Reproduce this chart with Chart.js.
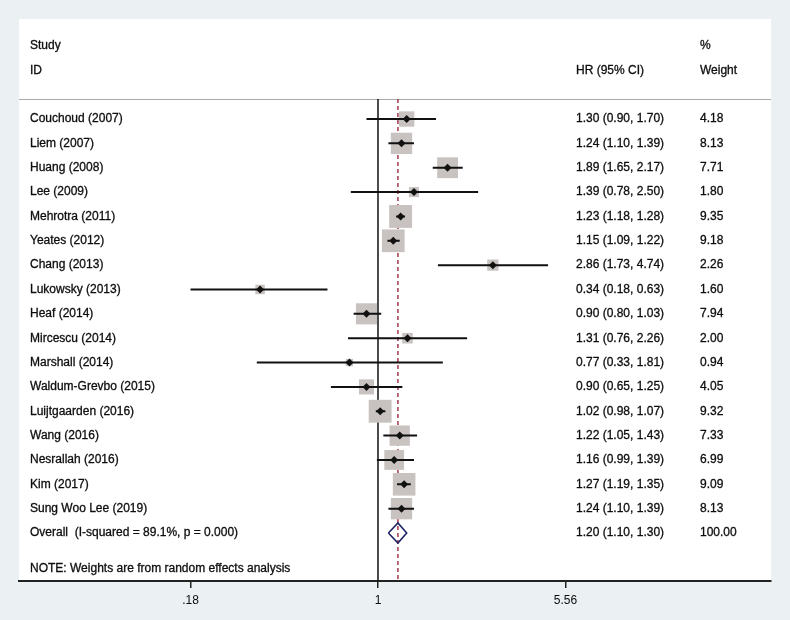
<!DOCTYPE html>
<html>
<head>
<meta charset="utf-8">
<script src="https://cdn.jsdelivr.net/npm/chart.js@4.4.1/dist/chart.umd.min.js"></script>
<style>
  html, body { margin: 0; padding: 0; background: #ebf1f3; }
  #wrap { width: 790px; height: 620px; position: relative; }
</style>
</head>
<body>
<div id="wrap"><canvas id="forest"></canvas></div>
<script>
const studies = ['Couchoud (2007)', 'Liem (2007)', 'Huang (2008)', 'Lee (2009)', 'Mehrotra (2011)',
    'Yeates (2012)', 'Chang (2013)', 'Lukowsky (2013)', 'Heaf (2014)', 'Mircescu (2014)',
    'Marshall (2014)', 'Waldum-Grevbo (2015)', 'Luijtgaarden (2016)', 'Wang (2016)',
    'Nesrallah (2016)', 'Kim (2017)', 'Sung Woo Lee (2019)'];
const hr = [1.30, 1.24, 1.89, 1.39, 1.23, 1.15, 2.86, 0.34, 0.90, 1.31, 0.77, 0.90, 1.02, 1.22, 1.16, 1.27, 1.24];
const lower = [0.90, 1.10, 1.65, 0.78, 1.18, 1.09, 1.73, 0.18, 0.80, 0.76, 0.33, 0.65, 0.98, 1.05, 0.99, 1.19, 1.10];
const upper = [1.70, 1.39, 2.17, 2.50, 1.28, 1.22, 4.74, 0.63, 1.03, 2.26, 1.81, 1.25, 1.07, 1.43, 1.39, 1.35, 1.39];
const weights = [4.18, 8.13, 7.71, 1.80, 9.35, 9.18, 2.26, 1.60, 7.94, 2.00, 0.94, 4.05, 9.32, 7.33, 6.99, 9.09, 8.13];

const overallLabel = 'Overall  (I-squared = 89.1%, p = 0.000)';
const overallHr = 1.20;
const overallLower = 1.10;
const overallUpper = 1.30;
const overallWeight = 100.00;
const noteText = 'NOTE: Weights are from random effects analysis';

const tickValues = [0.18, 1, 5.56];
const tickLabels = ['.18', '1', '5.56'];

const FONT = '12px "Liberation Sans", Arial, Helvetica, sans-serif';
const overallRow = studies.length;
const headerLineRow = -0.82;
const yMin = -4.107, yMax = 18.97;

// CI segments, broken by null gaps
const ciPoints = [];
studies.forEach((s, i) => {
    ciPoints.push({x: lower[i], y: i}, {x: upper[i], y: i}, {x: 1, y: null});
});
const squarePoints = studies.map((s, i) => ({x: hr[i], y: i}));
const diamondPoints = [
    {x: overallLower, y: overallRow}, {x: overallHr, y: overallRow - 0.41},
    {x: overallUpper, y: overallRow}, {x: overallHr, y: overallRow + 0.41},
    {x: overallLower, y: overallRow}
];

function label(ctx, text, x, y) {
    ctx.strokeText(text, x, y);
    ctx.fillText(text, x, y);
}

const panelPlugin = {
    id: 'panel',
    beforeDraw(chart) {
        const {ctx, chartArea: a} = chart;
        ctx.save();
        ctx.fillStyle = '#ebf1f3';
        ctx.fillRect(0, 0, chart.width, chart.height);
        ctx.fillStyle = '#ffffff';
        ctx.fillRect(a.left, a.top, a.right - a.left, a.bottom - a.top);
        const yl = chart.scales.y.getPixelForValue(headerLineRow);
        ctx.strokeStyle = '#aaaaaa';
        ctx.lineWidth = 1;
        ctx.beginPath();
        ctx.moveTo(a.left, Math.round(yl) + 0.5);
        ctx.lineTo(a.right, Math.round(yl) + 0.5);
        ctx.stroke();
        ctx.restore();
    },
    afterDraw(chart) {
        const {ctx} = chart;
        const y = chart.scales.y;
        ctx.save();
        ctx.font = FONT;
        ctx.fillStyle = '#0d0d0d';
        ctx.strokeStyle = '#0d0d0d';
        ctx.lineWidth = 0.3;
        ctx.textBaseline = 'middle';
        ctx.textAlign = 'left';
        const colStudy = 30, colHr = 576, colW = 700;
        label(ctx, 'Study', colStudy, y.getPixelForValue(-3));
        label(ctx, 'ID', colStudy, y.getPixelForValue(-2));
        label(ctx, 'HR (95% CI)', colHr, y.getPixelForValue(-2));
        label(ctx, '%', colW, y.getPixelForValue(-3));
        label(ctx, 'Weight', colW, y.getPixelForValue(-2));
        studies.forEach((s, i) => {
            const py = y.getPixelForValue(i);
            label(ctx, s, colStudy, py);
            label(ctx, `${hr[i].toFixed(2)} (${lower[i].toFixed(2)}, ${upper[i].toFixed(2)})`, colHr, py);
            label(ctx, weights[i].toFixed(2), colW, py);
        });
        const po = y.getPixelForValue(overallRow);
        label(ctx, overallLabel, colStudy, po);
        label(ctx, `${overallHr.toFixed(2)} (${overallLower.toFixed(2)}, ${overallUpper.toFixed(2)})`, colHr, po);
        label(ctx, overallWeight.toFixed(2), colW, po);
        label(ctx, noteText, colStudy, y.getPixelForValue(18.48));
        ctx.restore();
    }
};

new Chart(document.getElementById('forest'), {
    type: 'scatter',
    data: {
        datasets: [
            {   // point estimates
                data: squarePoints,
                pointStyle: 'rectRot',
                pointRadius: 4,
                backgroundColor: '#111111',
                borderWidth: 0,
                order: 0
            },
            {   // confidence intervals
                data: ciPoints,
                showLine: true,
                spanGaps: false,
                borderColor: '#111111',
                borderWidth: 2,
                pointRadius: 0,
                order: 1
            },
            {   // weight boxes
                data: squarePoints,
                pointStyle: 'rect',
                pointRadius: weights.map(w => 5.3 * Math.sqrt(w)),
                backgroundColor: '#c8c3c0',
                borderWidth: 0,
                order: 2
            },
            {   // overall diamond
                data: diamondPoints,
                showLine: true,
                borderColor: '#1f2466',
                borderWidth: 1.6,
                pointRadius: 0,
                order: 1
            },
            {   // null line
                data: [{x: 1, y: headerLineRow}, {x: 1, y: yMax}],
                showLine: true,
                borderColor: '#111111',
                borderWidth: 1.5,
                pointRadius: 0,
                order: 3
            },
            {   // overall estimate line
                data: [{x: overallHr, y: headerLineRow}, {x: overallHr, y: yMax}],
                showLine: true,
                borderColor: '#a6384c',
                borderWidth: 1.5,
                borderDash: [4, 3],
                pointRadius: 0,
                order: 3
            }
        ]
    },
    options: {
        responsive: true,
        maintainAspectRatio: false,
        animation: false,
        layout: { padding: { left: 19, right: 19, top: 19, bottom: 0 } },
        plugins: { legend: { display: false }, tooltip: { enabled: false } },
        scales: {
            x: {
                type: 'logarithmic',
                min: 0.03748,
                max: 36.42,
                bounds: 'data',
                afterBuildTicks: (scale) => { scale.ticks = tickValues.map(v => ({value: v})); },
                afterFit: (scale) => { scale.height = 39; },
                ticks: {
                    autoSkip: false,
                    maxRotation: 0,
                    padding: 5,
                    color: '#0d0d0d',
                    font: { family: '"Liberation Sans", Arial, sans-serif', size: 12 },
                    callback: (v) => tickLabels[tickValues.indexOf(v)] ?? ''
                },
                grid: { drawOnChartArea: false, drawTicks: true, tickLength: 7, color: '#222222', lineWidth: 1.5 },
                border: { display: true, color: '#222222', width: 2 }
            },
            y: {
                type: 'linear',
                reverse: true,
                min: yMin,
                max: yMax,
                display: false
            }
        }
    },
    plugins: [panelPlugin]
});
</script>
</body>
</html>
